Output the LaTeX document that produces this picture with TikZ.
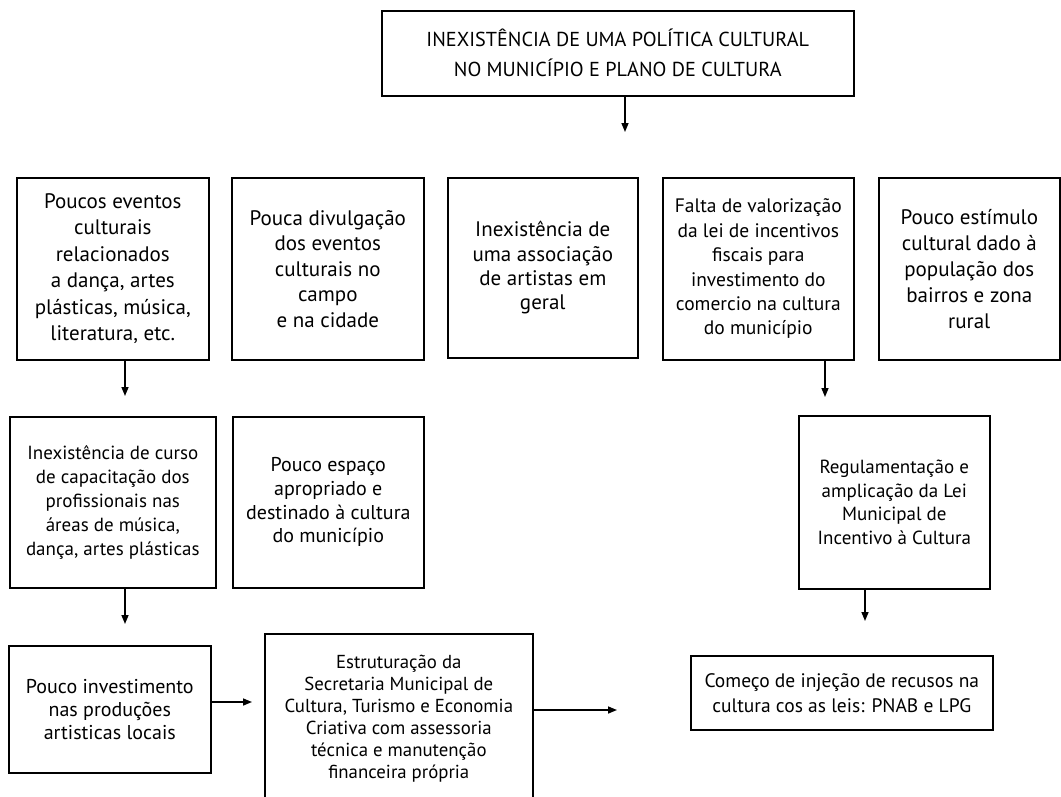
\documentclass[tikz,border=0pt]{standalone}
\usepackage{fontspec}
\setmainfont{PT Sans}
\usetikzlibrary{arrows.meta}
\tikzset{
  box/.style={draw=black, line width=1.6pt, inner sep=0pt, align=center, anchor=north west},
  arr/.style={line width=1.5pt, -{Triangle[length=9pt,width=7pt]}},
  fs/.style 2 args={font={\fontsize{#1}{#2}\selectfont}}
}
\begin{document}
\begin{tikzpicture}[x=1pt,y=-1pt]
\useasboundingbox (0,0) rectangle (1061,796);
\clip (0,0) rectangle (1061,796);
\node[box, fs={20.2}{30}, minimum width=472pt, minimum height=85pt] (T) at (381,10)
  {INEXISTÊNCIA DE UMA POLÍTICA CULTURAL\\NO MUNICÍPIO E PLANO DE CULTURA};
\node[box, fs={21}{26.5}, minimum width=192pt, minimum height=182pt] (B1) at (16,177)
  {Poucos eventos\\culturais\\relacionados\\a dança, artes\\plásticas, música,\\literatura, etc.};
\node[box, fs={21}{25.5}, minimum width=192pt, minimum height=182pt] (B2) at (231,177)
  {Pouca divulgação\\dos eventos\\culturais no\\campo\\e na cidade};
\node[box, fs={21}{24.4}, minimum width=190pt, minimum height=180pt] (B3) at (447,177)
  {Inexistência de\\uma associação\\de artistas em\\geral};
\node[box, fs={19.5}{24.4}, minimum width=191pt, minimum height=182pt] (B4) at (662,177)
  {Falta de valorização\\da lei de incentivos\\fiscais para\\investimento do\\comercio na cultura\\do município};
\node[box, fs={21}{26}, minimum width=181pt, minimum height=182pt] (B5) at (878,177)
  {Pouco estímulo\\cultural dado à\\população dos\\bairros e zona\\rural};
\node[box, fs={19}{24}, minimum width=206pt, minimum height=171pt] (B6) at (9,416)
  {Inexistência de curso\\de capacitação dos\\profissionais nas\\áreas de música,\\dança, artes plásticas};
\node[box, fs={20}{23.7}, minimum width=191pt, minimum height=171pt] (B7) at (232,416)
  {Pouco espaço\\apropriado e\\destinado à cultura\\do município};
\node[box, fs={19}{23.7}, minimum width=191pt, minimum height=173pt] (B8) at (798,415)
  {Regulamentação e\\amplicação da Lei\\Municipal de\\Incentivo à Cultura};
\node[box, fs={20}{23}, minimum width=202pt, minimum height=127pt] (B9) at (8,645)
  {Pouco investimento\\nas produções\\artisticas locais};
\node[box, fs={18.8}{22}, minimum width=268pt, minimum height=170pt] (B10) at (264,633)
  {Estruturação da\\Secretaria Municipal de\\Cultura, Turismo e Economia\\Criativa com assessoria\\técnica e manutenção\\financeira própria};
\node[box, fs={19.5}{25}, minimum width=302pt, minimum height=74pt] (B11) at (690,655)
  {Começo de injeção de recusos na\\cultura cos as leis: PNAB e LPG};
\coordinate (a0) at (625,132);
\coordinate (a1) at (125,396);
\coordinate (a4) at (825,397);
\coordinate (a6) at (125,624);
\coordinate (a8) at (865,621);
\coordinate (a9) at (252,702);
\coordinate (a10) at (617,710);
\draw[arr] (T.south -| a0) -- (a0);
\draw[arr] (B1.south -| a1) -- (a1);
\draw[arr] (B4.south -| a4) -- (a4);
\draw[arr] (B6.south -| a6) -- (a6);
\draw[arr] (B8.south -| a8) -- (a8);
\draw[arr] (B9.east |- a9) -- (a9);
\draw[arr] (B10.east |- a10) -- (a10);
\end{tikzpicture}
\end{document}
